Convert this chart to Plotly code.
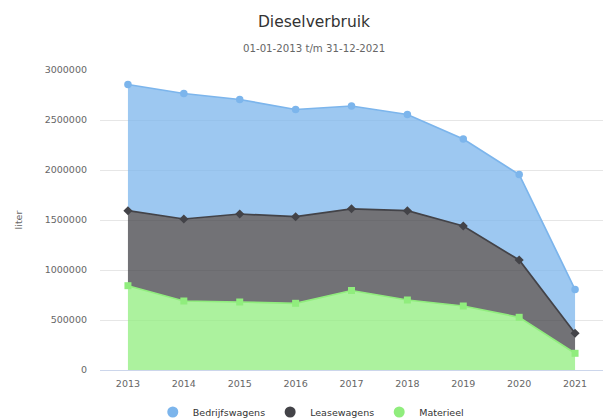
import plotly.graph_objects as go

years = [2013, 2014, 2015, 2016, 2017, 2018, 2019, 2020, 2021]
year_labels = [str(y) for y in years]

# raw (unstacked) values in liters
materieel = [843000, 690000, 680000, 667000, 795000, 700000, 640000, 527000, 167000]
leasewagens = [750000, 820000, 880000, 866000, 817000, 893000, 800000, 573000, 200000]
bedrijfswagens = [1262000, 1255000, 1145000, 1072000, 1028000, 962000, 870000, 855000, 438000]

series_names = ["Bedrijfswagens", "Leasewagens", "Materieel"]
colors = {"Bedrijfswagens": "#7cb5ec", "Leasewagens": "#434348", "Materieel": "#90ed7d"}
fills = {"Bedrijfswagens": "rgba(124,181,236,0.75)",
         "Leasewagens": "rgba(67,67,72,0.75)",
         "Materieel": "rgba(144,237,125,0.75)"}
symbols = {"Bedrijfswagens": "circle", "Leasewagens": "diamond", "Materieel": "square"}
values = {"Bedrijfswagens": bedrijfswagens, "Leasewagens": leasewagens, "Materieel": materieel}

fig = go.Figure()

# stack from bottom to top
for name in ["Materieel", "Leasewagens", "Bedrijfswagens"]:
    fig.add_trace(go.Scatter(
        x=years, y=values[name], name=name, stackgroup="one",
        mode="lines+markers",
        line=dict(color=colors[name], width=1.7),
        fillcolor=fills[name],
        marker=dict(symbol=symbols[name], size=7 if name != "Bedrijfswagens" else 7.5,
                    color=colors[name]),
        showlegend=False, hoverinfo="skip",
    ))

# legend entries (circles, like the reference)
for name in series_names:
    fig.add_trace(go.Scatter(
        x=[None], y=[None], name=name, mode="markers",
        marker=dict(symbol="circle", size=11, color=colors[name]),
        showlegend=True,
    ))

fig.update_layout(
    width=607, height=419,
    margin=dict(l=100, r=4, t=70, b=49),
    paper_bgcolor="white", plot_bgcolor="white",
    font=dict(family="DejaVu Sans", color="#666666", size=9.5),
    title=dict(text="Dieselverbruik", x=314/607, xref="container", xanchor="center",
               y=1 - 22/419, yref="container", yanchor="middle",
               font=dict(size=15.5, color="#333333", family="DejaVu Sans")),
    showlegend=True,
    legend=dict(orientation="h", xref="container", yref="container", traceorder="normal",
                x=0.512, xanchor="center", y=1 - 412/419, yanchor="middle",
                font=dict(size=9.5, color="#333333"), itemwidth=30,
                bgcolor="rgba(0,0,0,0)"),
    annotations=[dict(text="01-01-2013 t/m 31-12-2021", xref="paper", yref="paper",
                      x=(314 - 100) / 503, y=(370 - 48) / 300, xanchor="center",
                      yanchor="middle", showarrow=False,
                      font=dict(size=10.2, color="#666666"))],
)

fig.update_xaxes(
    range=[2012.5, 2021.5], tickmode="array", tickvals=years, ticktext=year_labels,
    showgrid=False, zeroline=False, showline=True, linecolor="#ccd6eb", linewidth=1,
    ticks="", ticklabelstandoff=5, tickfont=dict(size=9.5, color="#666666"),
)
fig.update_yaxes(
    range=[0, 3000000], dtick=500000, tickformat="d",
    showgrid=True, gridcolor="#e6e6e6", gridwidth=1, zeroline=False,
    ticks="", ticklabelstandoff=12, tickfont=dict(size=9.5, color="#666666"),
    title=dict(text="liter", standoff=20, font=dict(size=9.5, color="#666666")),
    automargin=False,
)

fig.write_html("out.html", config={"displayModeBar": False},
               post_script="document.body.style.margin='0';")
